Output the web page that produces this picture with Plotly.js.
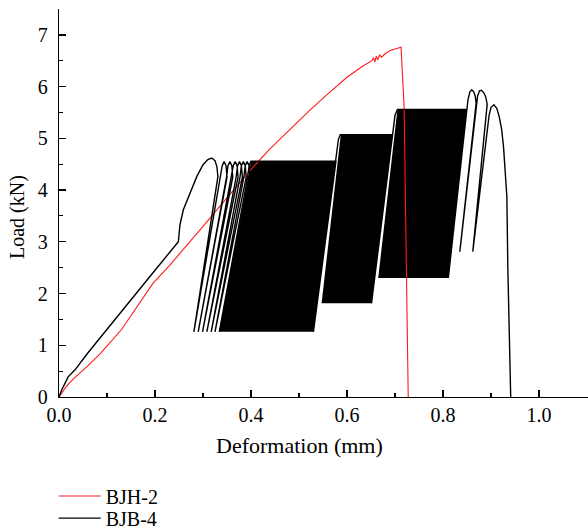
<!DOCTYPE html>
<html>
<head>
<meta charset="utf-8">
<script src="https://cdn.plot.ly/plotly-3.0.1.min.js"></script>
<style>html,body{margin:0;padding:0;background:#fff;}#chart{width:588px;height:531px;}</style>
</head>
<body>
<div id="chart"></div>
<script>
// BJH-2 (red) load-deformation curve
const bjhX = [0, 0.004, 0.009, 0.015, 0.03, 0.06, 0.085, 0.13, 0.196, 0.231, 0.30, 0.36, 0.40, 0.44, 0.48, 0.52, 0.56, 0.60, 0.63, 0.652, 0.655, 0.658, 0.661, 0.664, 0.668, 0.672, 0.68, 0.69, 0.7125, 0.719, 0.724, 0.726, 0.7275];
const bjhY = [0, 0.06, 0.12, 0.2, 0.35, 0.6, 0.83, 1.3, 2.2, 2.55, 3.3, 3.97, 4.40, 4.80, 5.17, 5.52, 5.86, 6.18, 6.38, 6.5, 6.56, 6.48, 6.59, 6.52, 6.61, 6.57, 6.64, 6.7, 6.76, 5.6, 2.26, 0.3, 0];

// BJB-4 (black) cyclic load-deformation curve: turning points
const bjbX = [0, 0.0056, 0.019, 0.033, 0.06, 0.099, 0.15, 0.2, 0.2486,
  0.252, 0.259, 0.273, 0.287, 0.30, 0.31, 0.318, 0.325, 0.329, 0.331,
  0.281, 0.337, 0.340, 0.344, 0.348, 0.350,
  0.290, 0.349, 0.352, 0.356, 0.360, 0.362,
  0.299, 0.360, 0.363, 0.367, 0.371, 0.373,
  0.308, 0.369, 0.372, 0.376, 0.380, 0.382,
  0.317, 0.377, 0.380, 0.384, 0.388, 0.390,
  0.325, 0.385, 0.388, 0.392, 0.396, 0.398,
  0.334, 0.393, 0.396, 0.400, 0.577,
  0.530, 0.578, 0.582, 0.586, 0.693,
  0.651, 0.696, 0.700, 0.705, 0.849,
  0.811, 0.848, 0.852, 0.856, 0.860, 0.864, 0.867, 0.869,
  0.835, 0.868, 0.872, 0.876, 0.880, 0.885, 0.889, 0.892,
  0.862, 0.896, 0.900, 0.906, 0.912, 0.917, 0.922, 0.926, 0.929, 0.932, 0.933, 0.935, 0.938, 0.941];
const bjbY = [0, 0.135, 0.39, 0.52, 0.85, 1.3, 1.88, 2.45, 3.0,
  3.33, 3.62, 3.94, 4.26, 4.49, 4.59, 4.62, 4.57, 4.45, 4.26,
  1.26, 4.25, 4.47, 4.55, 4.47, 4.25,
  1.26, 4.25, 4.47, 4.55, 4.47, 4.25,
  1.26, 4.25, 4.47, 4.55, 4.47, 4.25,
  1.26, 4.25, 4.47, 4.55, 4.47, 4.25,
  1.26, 4.25, 4.47, 4.55, 4.47, 4.25,
  1.26, 4.25, 4.47, 4.55, 4.47, 4.25,
  1.26, 4.25, 4.47, 4.56, 4.56,
  1.26, 4.75, 4.98, 5.07, 5.07,
  1.81, 5.2, 5.45, 5.56, 5.56,
  2.30, 5.45, 5.75, 5.9, 5.94, 5.9, 5.82, 5.68,
  2.81, 5.55, 5.82, 5.92, 5.93, 5.88, 5.8, 5.66,
  2.81, 5.45, 5.6, 5.65, 5.58, 5.42, 5.18, 4.84, 4.45, 4.2, 3.87, 2.5, 1.0, 0];

// Outlines of the dense cyclic regions of BJB-4
const block1X = [0.334, 0.400, 0.577, 0.530];
const block1Y = [1.26, 4.56, 4.56, 1.26];
const block2X = [0.547, 0.587, 0.693, 0.651];
const block2Y = [1.81, 5.07, 5.07, 1.81];
const block3X = [0.665, 0.705, 0.849, 0.811];
const block3Y = [2.30, 5.56, 5.56, 2.30];

const seriesNames = ['BJH-2', 'BJB-4'];
const xTitle = 'Deformation (mm)';
const yTitle = 'Load (kN)';

const FONT = "'Liberation Serif', 'Times New Roman', serif";

function blockTrace(xs, ys) {
  return {x: xs, y: ys, mode: 'none', fill: 'toself', fillcolor: '#000000',
          showlegend: false, hoverinfo: 'skip', type: 'scatter'};
}

const traces = [
  blockTrace(block1X, block1Y),
  blockTrace(block2X, block2Y),
  blockTrace(block3X, block3Y),
  {x: bjhX, y: bjhY, mode: 'lines', name: seriesNames[0], type: 'scatter', legend: 'legend',
   line: {color: '#ff1a1a', width: 1.1}},
  {x: bjbX, y: bjbY, mode: 'lines', name: seriesNames[1], type: 'scatter', legend: 'legend2',
   line: {color: '#000000', width: 1.4}}
];

const legendBase = {x: -0.01, xanchor: 'left', yanchor: 'top', orientation: 'v',
  font: {family: FONT, size: 20}, bgcolor: 'rgba(0,0,0,0)', itemwidth: 42};

const layout = {
  width: 588, height: 531,
  margin: {l: 59, r: 0, t: 9, b: 134, pad: 0, autoexpand: false},
  paper_bgcolor: '#ffffff', plot_bgcolor: '#ffffff',
  font: {family: FONT, size: 20, color: '#000'},
  xaxis: {
    range: [0, 1.102], dtick: 0.2, tick0: 0, tickformat: '.1f',
    showgrid: false, zeroline: false, showline: true, linecolor: '#000', linewidth: 1.3,
    ticks: 'inside', ticklen: 7, tickwidth: 1.3, tickcolor: '#000',
    minor: {dtick: 0.1, ticks: 'inside', ticklen: 4, tickwidth: 1.1, tickcolor: '#000', showgrid: false},
    tickfont: {family: FONT, size: 20}, ticklabelstandoff: 0, automargin: false
  },
  yaxis: {
    range: [0, 7.5], dtick: 1, tick0: 0,
    showgrid: false, zeroline: false, showline: true, linecolor: '#000', linewidth: 1.3,
    ticks: 'inside', ticklen: 7, tickwidth: 1.3, tickcolor: '#000',
    minor: {dtick: 0.5, ticks: 'inside', ticklen: 4, tickwidth: 1.1, tickcolor: '#000', showgrid: false},
    tickfont: {family: FONT, size: 20}, ticklabelstandoff: 6, automargin: false
  },
  annotations: [
    {text: xTitle, xref: 'paper', yref: 'paper', x: 0.4537, y: -0.126, xanchor: 'center', yanchor: 'middle',
     showarrow: false, font: {family: FONT, size: 22}},
    {text: yTitle, xref: 'paper', yref: 'paper', x: -0.0775, y: 0.464, xanchor: 'center', yanchor: 'middle',
     textangle: -90, showarrow: false, font: {family: FONT, size: 20}}
  ],
  showlegend: true,
  legend: Object.assign({}, legendBase, {y: -0.205}),
  legend2: Object.assign({}, legendBase, {y: -0.262})
};

Plotly.newPlot('chart', traces, layout, {displayModeBar: false, staticPlot: true});
</script>
</body>
</html>
